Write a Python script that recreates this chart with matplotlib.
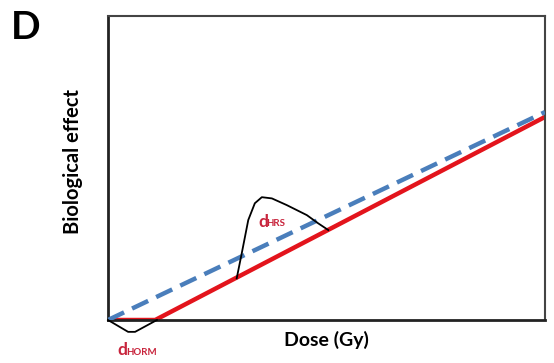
import numpy as np
import matplotlib.pyplot as plt

# schematic dose-response curves (arbitrary units, 0-100)
lnt_x = [0, 100]
lnt_y = [0, 68.4]

red_x = [0, 10.8, 100]
red_y = [0, 0, 66.8]

horm_x = [0, 4.6, 6.2, 11.2]
horm_y = [0, -3.9, -3.9, 0]

hrs_x = [29.45, 30.6, 32.1, 33.6, 35.2, 37.5, 40.9, 45.5, 48.1, 50.4]
hrs_y = [13.7, 21.9, 32.9, 38.4, 40.4, 40.0, 37.8, 34.5, 31.8, 29.6]

plt.rcParams['font.family'] = ['Lato', 'DejaVu Sans']

fig = plt.figure(figsize=(5.54, 3.63), dpi=100)
ax = fig.add_axes([108 / 554, 1 - 320 / 363, 437 / 554, 304 / 363])

ax.plot(red_x, red_y, color='#e3141c', lw=3.2, solid_capstyle='butt', zorder=2)
ax.plot(lnt_x, lnt_y, color='#4a7ebb', lw=3.2, dashes=(4, 2), zorder=3)
ax.plot(horm_x, horm_y, color='black', lw=1.3, zorder=4, clip_on=False)
ax.plot(hrs_x, hrs_y, color='black', lw=1.3, zorder=4)

ax.set_xlim(0, 100)
ax.set_ylim(0, 100)
ax.set_xticks([])
ax.set_yticks([])
for s in ['left', 'bottom']:
    ax.spines[s].set_linewidth(2.0)
    ax.spines[s].set_color('#222222')
for s in ['top', 'right']:
    ax.spines[s].set_linewidth(1.5)
    ax.spines[s].set_color('#444444')

ax.set_xlabel('Dose (Gy)', fontsize=14, fontweight='bold', labelpad=8)
ax.set_ylabel('Biological effect', fontsize=14.5, fontweight='bold')
ax.yaxis.set_label_coords(-0.058, 0.52)

red_txt = '#c8243c'
ax.text(34.4, 32.4, 'd', color=red_txt, fontsize=12.5, fontweight='bold', ha='left', va='center')
ax.text(36.3, 31.6, 'HRS', color=red_txt, fontsize=7, fontweight='bold', ha='left', va='center')
ax.text(2.2, -10.0, 'd', color=red_txt, fontsize=12.5, fontweight='bold', ha='left', va='center', clip_on=False)
ax.text(4.1, -10.8, 'HORM', color=red_txt, fontsize=7, fontweight='bold', ha='left', va='center', clip_on=False)

fig.text(0.047, 0.925, 'D', fontsize=28, fontweight='bold', ha='center', va='center')

plt.savefig('out.png', dpi=100)
